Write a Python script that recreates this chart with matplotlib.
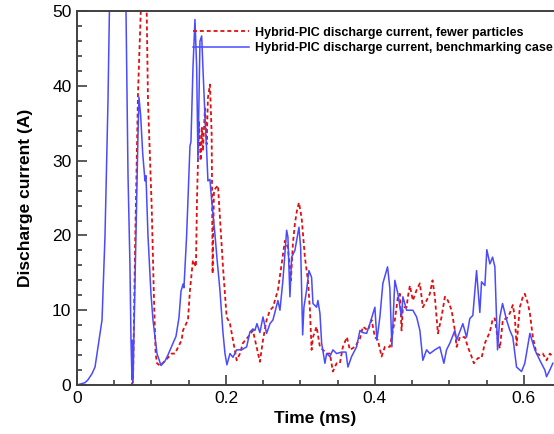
import matplotlib.pyplot as plt
import numpy as np

plt.rcParams['font.family'] = ['Liberation Sans', 'DejaVu Sans']

# benchmarking case (solid blue)
benchTime = [0, 0.0107, 0.0148, 0.0201, 0.0242, 0.0282, 0.0336, 0.0376, 0.0416, 0.0443,
             0.0470, 0.0537, 0.0617, 0.0658, 0.0685, 0.0711, 0.0725, 0.0738, 0.0742, 0.0752,
             0.0765, 0.0792, 0.0819, 0.0832, 0.0855, 0.0882, 0.0913, 0.0926, 0.0953, 0.0993,
             0.1020, 0.1074, 0.1128, 0.1181, 0.1221, 0.1289, 0.1329, 0.1369, 0.1396, 0.1423,
             0.1436, 0.1472, 0.1517, 0.1530, 0.1557, 0.1584, 0.1607, 0.1624, 0.1651, 0.1674,
             0.1691, 0.1718, 0.1741, 0.1758, 0.1785, 0.1808, 0.1852, 0.1879, 0.1919, 0.1960,
             0.1987, 0.2013, 0.2054, 0.2094, 0.2144, 0.2211, 0.2278, 0.2322, 0.2362, 0.2389,
             0.2416, 0.2456, 0.2497, 0.2546, 0.2591, 0.2631, 0.2698, 0.2725, 0.2765, 0.2815,
             0.2832, 0.2859, 0.2882, 0.2926, 0.2949, 0.2980, 0.3003, 0.3030, 0.3047, 0.3083,
             0.3114, 0.3150, 0.3168, 0.3217, 0.3235, 0.3262, 0.3285, 0.3329, 0.3352, 0.3396,
             0.3436, 0.3486, 0.3553, 0.3611, 0.3638, 0.3687, 0.3754, 0.3799, 0.3839, 0.3889,
             0.3933, 0.4000, 0.4027, 0.4067, 0.4107, 0.4170, 0.4201, 0.4228, 0.4268, 0.4309,
             0.4358, 0.4376, 0.4426, 0.4470, 0.4510, 0.4560, 0.4604, 0.4644, 0.4694, 0.4738,
             0.4805, 0.4872, 0.4926, 0.4962, 0.5007, 0.5074, 0.5097, 0.5181, 0.5231, 0.5275,
             0.5315, 0.5365, 0.5409, 0.5432, 0.5477, 0.5503, 0.5544, 0.5580, 0.5611, 0.5647,
             0.5678, 0.5714, 0.5768, 0.5812, 0.5852, 0.5902, 0.5969, 0.6013, 0.6081, 0.6148,
             0.6215, 0.6282, 0.6305, 0.6349, 0.6389]
benchCurrent = [0, 0.3, 0.7, 1.5, 2.4, 5.1, 8.7, 20, 38, 55,
                60, 65, 60, 50, 28, 16, 6, 0.7, 6, 0.3,
                7, 20, 33.6, 38.5, 36, 31, 27.3, 28, 20, 12.2,
                8.7, 4.2, 2.6, 3.2, 4.0, 5.6, 6.5, 9, 12.5, 13.5,
                13, 20, 32, 32.5, 42.4, 48.9, 42.4, 30, 46, 46.7,
                42.4, 36, 31.3, 27.3, 27.5, 24.7, 20.2, 17, 12.7, 7,
                4.2, 2.7, 4.2, 3.7, 4.7, 4.7, 5.1, 7.1, 7.5, 7.3,
                8.2, 7.0, 9.1, 6.9, 8.2, 8.7, 11.3, 10, 14, 20.7,
                19.8, 11.8, 17.1, 18, 19.3, 21.1, 18.4, 6.7, 10.4, 12.7,
                15.3, 14.4, 10.9, 10.4, 11.3, 9.6, 5.6, 2.9, 4.2, 3.8,
                4.7, 4.2, 4.4, 4.4, 2.4, 3.8, 5.1, 7.3, 7, 6.9,
                8.2, 10.4, 6, 9.1, 13.6, 15.8, 12.9, 5.1, 14, 12.2,
                9.1, 11.8, 10, 10, 10, 9.1, 7.3, 3.3, 4.7, 4.2,
                4.7, 5.1, 2.9, 4.7, 5.6, 7.3, 6, 8.2, 6.4, 8.9,
                9.3, 15.3, 9.7, 13.8, 13.3, 18.1, 16.2, 17.1, 15.8, 4.7,
                9.1, 10.9, 8.7, 7.3, 6.4, 2.4, 1.8, 2.9, 6.9, 4.7,
                3.3, 2, 1.1, 2, 2.9]

# fewer particles (dashed red)
fewerTime = [0.0732, 0.0752, 0.0779, 0.0819, 0.0855, 0.0872, 0.0899, 0.0936, 0.0953, 0.1003,
             0.1034, 0.1056, 0.1074, 0.1114, 0.1181, 0.1271, 0.1315, 0.1405, 0.1423, 0.1490,
             0.1517, 0.1557, 0.1597, 0.1611, 0.1638, 0.1660, 0.1678, 0.1691, 0.1718, 0.1741,
             0.1758, 0.1785, 0.1808, 0.1821, 0.1839, 0.1866, 0.1893, 0.1919, 0.1960, 0.2009,
             0.2054, 0.2094, 0.2144, 0.2188, 0.2228, 0.2295, 0.2362, 0.2412, 0.2456, 0.2497,
             0.2546, 0.2591, 0.2631, 0.2698, 0.2748, 0.2792, 0.2832, 0.2872, 0.2899, 0.2926,
             0.2953, 0.2980, 0.3016, 0.3060, 0.3101, 0.3128, 0.3150, 0.3168, 0.3217, 0.3262,
             0.3302, 0.3352, 0.3396, 0.3436, 0.3486, 0.3530, 0.3570, 0.3624, 0.3664, 0.3732,
             0.3799, 0.3839, 0.3906, 0.3956, 0.4000, 0.4040, 0.4090, 0.4134, 0.4201, 0.4242,
             0.4268, 0.4309, 0.4336, 0.4358, 0.4376, 0.4426, 0.4443, 0.4470, 0.4510, 0.4560,
             0.4604, 0.4644, 0.4694, 0.4738, 0.4774, 0.4805, 0.4828, 0.4846, 0.4895, 0.4940,
             0.4980, 0.5030, 0.5074, 0.5097, 0.5141, 0.5208, 0.5248, 0.5298, 0.5329, 0.5383,
             0.5432, 0.5477, 0.5544, 0.5584, 0.5611, 0.5651, 0.5678, 0.5718, 0.5768, 0.5812,
             0.5852, 0.5879, 0.5902, 0.5946, 0.5987, 0.6013, 0.6054, 0.6081, 0.6121, 0.6170,
             0.6215, 0.6255, 0.6305, 0.6349, 0.6389]
fewerCurrent = [0, 0.5, 18, 39, 49.6, 58, 60, 50, 38, 23.8,
                11.3, 4.2, 2.9, 2.6, 3.2, 4.2, 4.2, 6, 7.3, 8.7,
                12.7, 16.7, 15.8, 24.7, 35.3, 30, 34.4, 31.3, 37, 32.2,
                38.4, 40.2, 33.6, 14.9, 26, 26.4, 26.7, 22.4, 15.8, 9.1,
                8.2, 6, 3.3, 4.2, 5.6, 6.4, 7.3, 5.1, 3.1, 6.0,
                8.7, 10, 10.4, 12.7, 16.2, 19.3, 18.4, 14, 18.9, 21.6,
                23.3, 24.4, 22.4, 17.1, 14, 10, 4.7, 6.4, 7.8, 5.1,
                4.7, 4.2, 4.2, 1.8, 2.9, 2.9, 5.1, 6.4, 4.7, 5.1,
                6.2, 7.8, 7.3, 8.7, 6.4, 6, 3.8, 5.1, 5.1, 7.3,
                8.7, 11.8, 12.2, 7.3, 10.4, 10.4, 11.8, 13.3, 11.3, 12.7,
                13.6, 10.4, 11.3, 12.2, 14, 11.8, 9.1, 6.9, 9.1, 11.8,
                11.3, 10, 7.3, 5.1, 6.4, 6.4, 5.1, 3.8, 2.9, 3.6,
                3.6, 5.6, 7.1, 8.9, 8.9, 6, 4.9, 8.7, 8.9, 9.6,
                10.7, 9.1, 5.3, 10.4, 11.8, 12.2, 10.9, 9.6, 6.4, 4.2,
                4, 4.2, 3.3, 4.2, 3.8]

fig = plt.figure(figsize=(5.54, 4.34), dpi=100)
ax = fig.add_axes([0.139, 0.113, 0.861, 0.861])

ax.plot(fewerTime, fewerCurrent, color='#e01010', linestyle=(0, (2.2, 1.6)), linewidth=1.3,
        label='Hybrid-PIC discharge current, fewer particles')
ax.plot(benchTime, benchCurrent, color='#4a4aff', linewidth=1.1,
        label='Hybrid-PIC discharge current, benchmarking case')

ax.set_xlim(0, 0.6405)
ax.set_ylim(0, 50)
ax.set_xticks([0, 0.2, 0.4, 0.6])
ax.set_xticklabels(['0', '0.2', '0.4', '0.6'])
ax.set_yticks([0, 10, 20, 30, 40, 50])
ax.set_xticks(np.arange(0, 0.64, 0.05), minor=True)
ax.set_yticks(np.arange(0, 51, 2), minor=True)
ax.tick_params(which='both', direction='in', color='#404040', width=1.2, labelsize=12.5,
               pad=4)
ax.tick_params(which='major', length=7)
ax.tick_params(which='minor', length=3.5)
for s in ax.spines.values():
    s.set_color('#404040')
    s.set_linewidth(1.4)
ax.spines['right'].set_visible(False)

ax.set_xlabel('Time (ms)', fontsize=12.5, fontweight='bold', labelpad=4)
ax.set_ylabel('Discharge current (A)', fontsize=12.5, fontweight='bold', labelpad=14)

leg = ax.legend(loc='upper left', bbox_to_anchor=(0.232, 0.972), frameon=False,
                prop={'weight': 'bold', 'size': 9}, handlelength=4.5, handletextpad=0.5,
                labelspacing=0.3, borderaxespad=0)

plt.savefig('out.png', dpi=100)
